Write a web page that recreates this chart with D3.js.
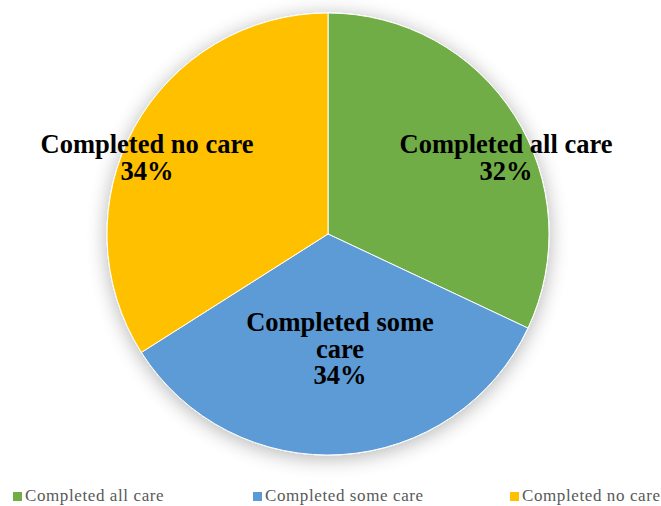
<!DOCTYPE html>
<html>
<head>
<meta charset="utf-8">
<script src="https://cdn.jsdelivr.net/npm/d3@7"></script>
<style>
  html, body { margin: 0; padding: 0; background: #fff; }
  svg { display: block; }
</style>
</head>
<body>
<svg id="chart" width="661" height="506"></svg>
<script>
// Survey outcome shares
const categories = ["Completed all care", "Completed some care", "Completed no care"];
const shares = [32, 34, 34];
const colors = ["#70AD47", "#5B9BD5", "#FFC000"];
// Label lines drawn on each slice
const labelLines = [["Completed all care", "32%"], ["Completed some", "care", "34%"], ["Completed no care", "34%"]];

const svg = d3.select("#chart");
const cx = 328, cy = 234, r = 221;

const defs = svg.append("defs");
const shadow = defs.append("filter").attr("id", "soft").attr("x", "-20%").attr("y", "-20%").attr("width", "140%").attr("height", "140%");
shadow.append("feGaussianBlur").attr("in", "SourceAlpha").attr("stdDeviation", 10).attr("result", "b");
shadow.append("feOffset").attr("in", "b").attr("dx", 0).attr("dy", 3).attr("result", "o");
shadow.append("feComponentTransfer").attr("in", "o").attr("result", "s")
  .append("feFuncA").attr("type", "linear").attr("slope", 0.3);
const merge = shadow.append("feMerge");
merge.append("feMergeNode").attr("in", "s");
merge.append("feMergeNode").attr("in", "SourceGraphic");

const pie = d3.pie().sort(null).value(d => d)(shares);
const arc = d3.arc().innerRadius(0).outerRadius(r);

const g = svg.append("g").attr("transform", `translate(${cx},${cy})`);
g.append("g").attr("filter", "url(#soft)")
  .selectAll("path").data(pie).join("path")
  .attr("d", arc)
  .attr("fill", (d, i) => colors[i])
  .attr("stroke", "#fff").attr("stroke-width", 1);

// Slice labels
const labelPos = [[178, -81], [12, 97], [-181, -81]];
const lineH = 26.5;
pie.forEach((d, i) => {
  const lines = labelLines[i];
  const t = g.append("text")
    .attr("x", labelPos[i][0])
    .attr("y", labelPos[i][1])
    .attr("text-anchor", "middle")
    .attr("font-family", "'Liberation Serif', 'Times New Roman', serif")
    .attr("font-weight", "bold")
    .attr("font-size", 26.5)
    .attr("fill", "#000");
  lines.forEach((ln, k) => {
    t.append("tspan").attr("x", labelPos[i][0]).attr("dy", k === 0 ? 0 : lineH).text(ln);
  });
});

// Legend
const legendX = [13, 253, 510];
const legend = svg.append("g");
categories.forEach((c, i) => {
  legend.append("rect").attr("x", legendX[i]).attr("y", 492).attr("width", 9).attr("height", 9).attr("fill", colors[i]);
  legend.append("text").attr("x", legendX[i] + 12).attr("y", 501)
    .attr("font-family", "'Liberation Serif', 'Times New Roman', serif")
    .attr("font-size", 17).attr("letter-spacing", 0.6)
    .attr("fill", "#595959").text(c);
});
</script>
</body>
</html>
